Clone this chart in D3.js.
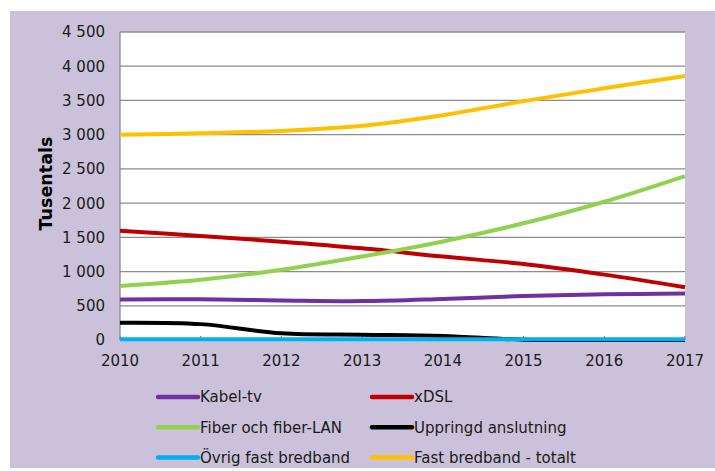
<!DOCTYPE html>
<html>
<head>
<meta charset="utf-8">
<script src="https://cdn.jsdelivr.net/npm/d3@7"></script>
<style>
  body { margin: 0; background: #fff; }
  svg { display: block; font-family: "DejaVu Sans", Verdana, sans-serif; }
</style>
</head>
<body>
<svg width="715" height="471"></svg>
<script>
(function () {
    // Data (thousands)
    const years = [2010, 2011, 2012, 2013, 2014, 2015, 2016, 2017];
    const kabelTv = [590, 595, 578, 568, 600, 643, 668, 678];
    const xdsl = [1595, 1520, 1437, 1340, 1220, 1110, 955, 770];
    const fiber = [790, 880, 1025, 1220, 1440, 1705, 2020, 2395];
    const uppringd = [253, 232, 98, 78, 58, 5, 0, 0];
    const ovrig = [12, 10, 10, 10, 10, 10, 10, 10];
    const totalt = [3000, 3020, 3055, 3130, 3285, 3490, 3677, 3857];
    const yTicks = [0, 500, 1000, 1500, 2000, 2500, 3000, 3500, 4000, 4500];

    const series = [
        { name: "Kabel-tv", values: kabelTv, color: "#7030A0" },
        { name: "xDSL", values: xdsl, color: "#C00000" },
        { name: "Fiber och fiber-LAN", values: fiber, color: "#92D050" },
        { name: "Uppringd anslutning", values: uppringd, color: "#000000" },
        { name: "Övrig fast bredband", values: ovrig, color: "#00B0F0" },
        { name: "Fast bredband - totalt", values: totalt, color: "#FFC000" },
    ];

    const svg = d3.select("svg");

    // Chart background
    svg.append("rect")
        .attr("x", 10).attr("y", 11)
        .attr("width", 705).attr("height", 457)
        .attr("fill", "#CCC1DA");

    const left = 120, right = 685, top = 32, bottom = 340;

    const x = d3.scaleLinear().domain([2010, 2017]).range([left, right]);
    const y = d3.scaleLinear().domain([0, 4500]).range([bottom, top]);

    // Plot area
    svg.append("rect")
        .attr("x", left).attr("y", top)
        .attr("width", right - left).attr("height", bottom - top)
        .attr("fill", "#fff");

    // Gridlines
    svg.append("g")
        .selectAll("line")
        .data(yTicks)
        .enter()
        .append("line")
        .attr("x1", left).attr("x2", right)
        .attr("y1", (d) => y(d)).attr("y2", (d) => y(d))
        .attr("stroke", "#8C8C8C")
        .attr("stroke-width", 1.3);

    // Left axis line
    svg.append("line")
        .attr("x1", left).attr("x2", left)
        .attr("y1", top).attr("y2", bottom)
        .attr("stroke", "#8C8C8C").attr("stroke-width", 1.3);

    // X ticks (small, pointing up)
    svg.append("g")
        .selectAll("line")
        .data(years)
        .enter()
        .append("line")
        .attr("x1", (d) => x(d)).attr("x2", (d) => x(d))
        .attr("y1", bottom).attr("y2", bottom - 4)
        .attr("stroke", "#8C8C8C").attr("stroke-width", 1.3);

    // Y tick labels
    const fmt = (d) => d3.format(",")(d).replace(",", " ");
    svg.append("g")
        .selectAll("text")
        .data(yTicks)
        .enter()
        .append("text")
        .attr("x", 105)
        .attr("y", (d) => y(d))
        .attr("dy", "0.36em")
        .attr("text-anchor", "end")
        .attr("font-size", 15)
        .attr("fill", "#1a1a1a")
        .text(fmt);

    // X tick labels
    svg.append("g")
        .selectAll("text")
        .data(years)
        .enter()
        .append("text")
        .attr("x", (d) => x(d))
        .attr("y", 361)
        .attr("dy", "0.36em")
        .attr("text-anchor", "middle")
        .attr("font-size", 15)
        .attr("fill", "#1a1a1a")
        .text((d) => d);

    // Y axis title
    svg.append("text")
        .attr("transform", "translate(46,183.5) rotate(-90)")
        .attr("dy", "0.36em")
        .attr("text-anchor", "middle")
        .attr("font-size", 17.5)
        .attr("font-weight", "bold")
        .attr("fill", "#000")
        .text("Tusentals");

    // Lines
    const line = d3.line()
        .x((d, i) => x(years[i]))
        .y((d) => y(d))
        .curve(d3.curveCatmullRom.alpha(0.5));

    svg.append("g")
        .selectAll("path")
        .data(series)
        .enter()
        .append("path")
        .attr("d", (d) => line(d.values))
        .attr("fill", "none")
        .attr("stroke", (d) => d.color)
        .attr("stroke-width", 4)
        .attr("stroke-linejoin", "round");

    // Legend (two columns)
    const legend = svg.append("g");
    const items = legend.selectAll("g")
        .data(series)
        .enter()
        .append("g")
        .attr("transform", (d, i) =>
            "translate(" + (i % 2 === 0 ? 158 : 372) + "," + (397 + Math.floor(i / 2) * 30.3) + ")");

    items.append("line")
        .attr("x1", 0).attr("x2", 40)
        .attr("stroke", (d) => d.color)
        .attr("stroke-width", 4.5)
        .attr("stroke-linecap", "round");

    items.append("text")
        .attr("x", 42)
        .attr("dy", "0.36em")
        .attr("font-size", 15)
        .attr("fill", "#1a1a1a")
        .text((d) => d.name);
})();
</script>
</body>
</html>
